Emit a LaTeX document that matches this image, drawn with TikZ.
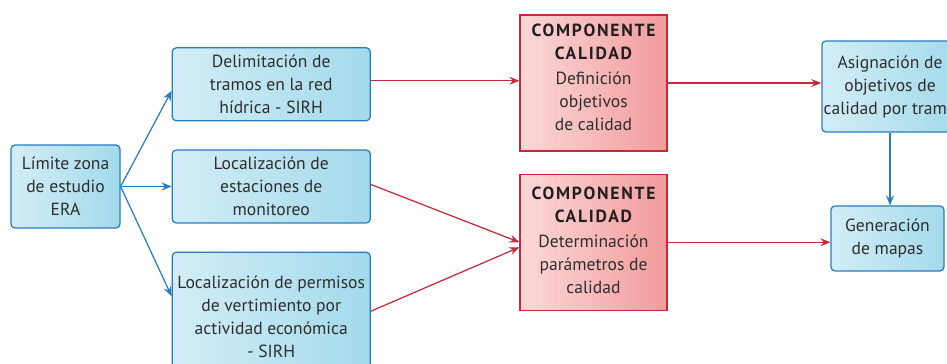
\documentclass[tikz,border=0pt]{standalone}
\usepackage{fontspec}
\setmainfont{PT Sans}
\usepackage{tikz}
\usetikzlibrary{arrows.meta,positioning}
\definecolor{azul}{HTML}{2A7CC0}
\definecolor{azulclaro}{HTML}{D3EDF6}
\definecolor{azulmedio}{HTML}{A3DAEB}
\definecolor{rojo}{HTML}{C62A3A}
\definecolor{rosaclaro}{HTML}{FBD8D8}
\definecolor{rosa}{HTML}{F29B9C}
\definecolor{tinta}{HTML}{2E2E2E}
\definecolor{negro}{HTML}{231F20}
\newcommand{\titcomp}{{\color{negro}\bfseries\addfontfeatures{LetterSpace=10}COMPONENTE}\\{\color{negro}\bfseries\addfontfeatures{LetterSpace=10}CALIDAD}}

\begin{document}
\begin{tikzpicture}[font=\fontsize{10}{13.1}\selectfont,
          caja/.style={draw=azul,line width=0.7pt,rounded corners=2.3pt,left color=azulclaro,right color=azulmedio,text=tinta,align=center,inner sep=1pt},
          comp/.style={draw=rojo,line width=0.7pt,left color=rosaclaro,right color=rosa,text=tinta,align=center,minimum width=2.94cm,minimum height=2.72cm,inner sep=1pt},
          fazul/.style={azul,line width=0.7pt,-{Stealth[length=2mm,width=1.6mm,inset=0.7mm]}},
          frojo/.style={rojo,line width=0.7pt,-{Stealth[length=2mm,width=1.6mm,inset=0.7mm]}},
          node distance=0.56cm and 1.02cm]
        \useasboundingbox (0,0) rectangle (18.94,-7.28);
        \node[caja,minimum width=2.18cm,minimum height=1.66cm] (limite) at (1.31,-3.73) {Límite zona\\de estudio\\ERA};
        \node[caja,minimum width=3.96cm,minimum height=1.46cm,right=of limite] (estaciones) {Localización de\\estaciones de\\monitoreo};
        \node[caja,minimum width=3.96cm,minimum height=1.46cm,above=of estaciones] (tramos) {Delimitación de\\tramos en la red\\hídrica - SIRH};
        \node[caja,minimum width=3.96cm,minimum height=2.6cm,below=of estaciones] (permisos) {Localización de permisos\\de vertimiento por\\actividad económica\\- SIRH};
        % el texto de los componentes va algo por encima del centro
        \node[comp,text depth=0.24cm] (defin) at (11.87,-1.66) {\titcomp\\[1pt]Definición\\objetivos\\de calidad};
        \node[comp,text depth=0.08cm,below=0.44cm of defin] (determ) {\titcomp\\[1pt]Determinación\\parámetros de\\calidad};
        \node[caja,minimum width=2.72cm,minimum height=1.82cm] (asign) at (17.8,-1.73) {Asignación de\\objetivos de\\calidad por tramo};
        \node[caja,minimum width=2.26cm,minimum height=1.3cm] (mapas) at (17.75,-4.77) {Generación\\de mapas};
        % salidas del límite de la zona
        \draw[fazul] (limite.east) -- ([yshift=-0.13cm]tramos.west);
        \draw[fazul] (limite.east) -- (estaciones.west);
        \draw[fazul] (limite.east) -- ([yshift=0.42cm]permisos.west);
        \draw[frojo] ([yshift=0.07cm]tramos.east) -- ([yshift=0.07cm]tramos.east -| defin.west);
        \draw[frojo] ([yshift=0.04cm]estaciones.east) -- (determ.west);
        \draw[frojo] ([yshift=0.12cm]permisos.east) -- ([yshift=-0.1cm]determ.west);
        \draw[frojo] (defin.east) -- (defin.east -| asign.west);
        \draw[frojo] (determ.east) -- (determ.east -| mapas.west);
        \draw[fazul] (asign.south) -- (asign.south |- mapas.north);
      \end{tikzpicture}
\end{document}
